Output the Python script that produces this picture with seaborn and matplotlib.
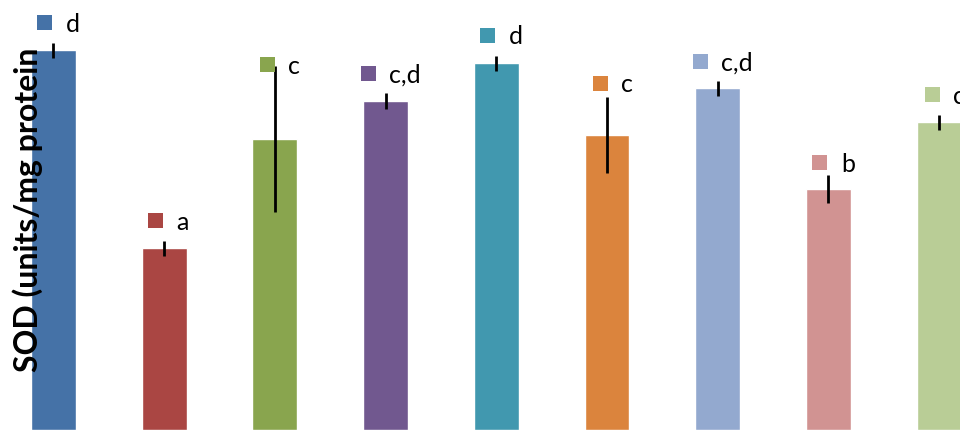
import matplotlib
matplotlib.use("Agg")
import matplotlib.pyplot as plt
import matplotlib.transforms as mtransforms
import seaborn as sns
import pandas as pd

# SOD activity per treatment group (mean, SD) and significance letters
groups = ["G1", "G2", "G3", "G4", "G5", "G6", "G7", "G8", "G9"]
sod_mean = [38.0, 18.2, 29.1, 32.9, 36.7, 29.5, 34.2, 24.1, 30.8]
sod_sd = [0.75, 0.75, 7.3, 0.8, 0.75, 3.8, 0.75, 1.45, 0.75]
letters = ["d", "a", "c", "c,d", "d", "c", "c,d", "b", "c"]

colors = ["#4572A7", "#AA4643", "#89A54E", "#71588F", "#4198AF",
          "#DB843D", "#93A9CF", "#D19392", "#B9CD96"]

# label placement: pixels above each bar top, and key offset from bar centre
label_raise = [28, 28, 75.5, 28.5, 28.5, 52.5, 27, 27.5, 28]
key_dx = [-9.5, -9.3, -8, -18, -9, -7, -18, -9, -7.5]

sns.set_theme(style="white")
plt.rcParams["font.family"] = ["Lato", "DejaVu Sans"]

df = pd.DataFrame({"group": groups, "sod": sod_mean})

fig = plt.figure(figsize=(9.6, 4.3), dpi=100)
ax = fig.add_axes([0, 0, 1, 1])

sns.barplot(data=df, x="group", y="sod", hue="group", palette=colors,
            legend=False, width=0.406, saturation=1, ax=ax, zorder=1)

ax.errorbar(range(len(groups)), sod_mean, yerr=sod_sd, fmt="none",
            ecolor="black", elinewidth=2, capsize=0, zorder=3)

ax.set_xlim(-0.483, 8.189)
ax.set_ylim(0, 43)
ax.axis("off")

dpi = fig.dpi
for i, (m, lab) in enumerate(zip(sod_mean, letters)):
    up = label_raise[i]
    dx = key_dx[i]
    key_tr = ax.transData + mtransforms.ScaledTranslation(dx / dpi, up / dpi, fig.dpi_scale_trans)
    ax.plot([i], [m], marker="s", markersize=15 * 72 / dpi, color=colors[i],
            markeredgewidth=0, transform=key_tr, zorder=4, clip_on=False)
    txt_tr = ax.transData + mtransforms.ScaledTranslation((dx + 21.5) / dpi, (up - 10) / dpi,
                                                         fig.dpi_scale_trans)
    ax.text(i, m, lab, transform=txt_tr, ha="left", va="baseline",
            fontsize=18, color="black", zorder=4, clip_on=False)

fig.text(38 / 960, (430 - 372) / 430, "SOD (units/mg protein", rotation=90,
         rotation_mode="anchor", ha="left", va="baseline", fontsize=23,
         fontweight="bold", color="black", zorder=10)

fig.savefig("out.png", dpi=100)
